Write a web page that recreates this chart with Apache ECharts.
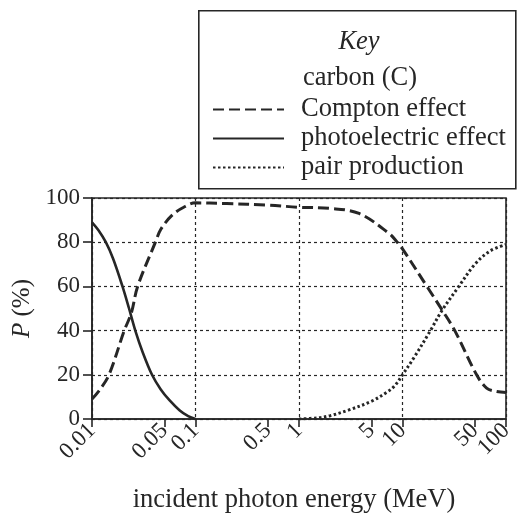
<!DOCTYPE html>
<html>
<head>
<meta charset="utf-8">
<script src="https://cdn.jsdelivr.net/npm/echarts@6/dist/echarts.min.js"></script>
<style>
  html, body { margin: 0; padding: 0; background: #ffffff; }
  #chart { width: 519px; height: 521px; }
</style>
</head>
<body>
<div id="chart"></div>
<script>
// Interaction probabilities in carbon versus incident photon energy (MeV)
const comptonEnergy = [0.01, 0.012, 0.0146, 0.0205, 0.024, 0.0276, 0.041, 0.0464, 0.06, 0.077, 0.1, 0.2, 0.5, 1, 2, 3.8, 7.4, 8.9, 10, 17.2, 24.4, 32, 52, 65, 80, 100];
const comptonP      = [9, 13.5, 20, 40, 48, 60, 80, 86, 92.4, 95.8, 97.8, 97.5, 96.8, 95.8, 95.3, 93, 84, 80, 77, 60, 49, 40, 20, 14, 12.5, 12];

const photoEnergy = [0.01, 0.0115, 0.0136, 0.016, 0.0197, 0.0228, 0.0262, 0.031, 0.038, 0.046, 0.056, 0.07, 0.085, 0.1];
const photoP      = [89, 85.5, 80, 72.5, 60, 50, 40, 30, 20, 13.5, 8.5, 4, 1.3, 0];

const pairEnergy = [1, 1.5, 2, 3, 5, 7, 8.4, 10, 13, 18.6, 24, 35, 50, 70, 100];
const pairP      = [0, 0.5, 1.5, 4, 8, 12, 15, 20, 28, 40, 49, 60, 70, 76, 79];

// labelled energies; the last one sits on its own axis so that it is not
// dropped next to its crowded neighbour
const energyTicks = [0.01, 0.05, 0.1, 0.5, 1, 5, 10, 50];
const energyEndTick = [100];

const ink = '#262626';
const serif = '"Liberation Serif", "DejaVu Serif", serif';

function pairs(xs, ys) { return xs.map((x, i) => [x, ys[i]]); }

const chart = echarts.init(document.getElementById('chart'), null, { renderer: 'canvas' });

const logRange = { type: 'log', logBase: 10, min: 0.01, max: 100, position: 'bottom', offset: 0 };

function labelledAxis(ticks, extra) {
  return Object.assign({}, logRange, {
    axisLine: { show: false },
    axisTick: { show: true, inside: false, length: 8, lineStyle: { color: ink, width: 1.6 }, customValues: ticks },
    minorTick: { show: false },
    axisLabel: {
      customValues: ticks, rotate: 45, margin: 8,
      showMinLabel: true, showMaxLabel: true, hideOverlap: false,
      fontFamily: serif, fontSize: 23, color: ink,
      formatter: v => String(+Number(v).toPrecision(3))
    },
    splitLine: { show: false }
  }, extra || {});
}

chart.setOption({
  backgroundColor: '#ffffff',
  animation: false,
  grid: {
    left: 92, right: 13, top: 198, bottom: 102,
    show: true, borderColor: ink, borderWidth: 1.6, backgroundColor: 'transparent'
  },
  xAxis: [
    // decade grid lines
    Object.assign({}, logRange, {
      axisLine: { show: true, lineStyle: { color: ink, width: 1.6 } },
      axisTick: { show: false },
      minorTick: { show: false },
      axisLabel: { show: false },
      splitLine: { show: true, lineStyle: { color: ink, width: 1.2, type: [3, 3] } }
    }),
    labelledAxis(energyTicks, {
      name: 'incident photon energy (MeV)',
      nameLocation: 'middle', nameGap: 68,
      nameTextStyle: { fontFamily: serif, fontSize: 26.5, color: ink, padding: [0, 10, 0, 0] }
    }),
    labelledAxis(energyEndTick)
  ],
  yAxis: {
    type: 'value', min: 0, max: 100, interval: 20,
    name: '{it|P} (%)',
    nameLocation: 'middle', nameGap: 55, nameRotate: 90,
    nameTextStyle: {
      fontFamily: serif, fontSize: 25, color: ink,
      rich: { it: { fontFamily: serif, fontSize: 25, fontStyle: 'italic', color: ink } }
    },
    axisLine: { show: true, lineStyle: { color: ink, width: 1.6 } },
    axisTick: { show: true, inside: false, length: 9, lineStyle: { color: ink, width: 1.6 } },
    axisLabel: { fontFamily: serif, fontSize: 23, color: ink, margin: 12 },
    splitLine: { show: true, lineStyle: { color: ink, width: 1.2, type: [3, 3] } }
  },
  legend: {
    orient: 'vertical',
    left: 212, top: 95, padding: 0,
    itemWidth: 71, itemHeight: 14, itemGap: 0,
    itemStyle: { opacity: 0 },
    textStyle: { fontFamily: serif, fontSize: 26.5, color: ink, lineHeight: 24, padding: [5, 0, 0, 12] },
    data: ['Compton effect', 'photoelectric effect', 'pair production']
  },
  graphic: [
    {
      type: 'rect', left: 198, top: 10, z: 10,
      shape: { width: 317, height: 178 },
      style: { fill: 'transparent', stroke: ink, lineWidth: 1.6 }
    },
    {
      type: 'text', x: 359, y: 42, z: 10,
      style: { text: 'Key', fontFamily: serif, fontSize: 26.5, fontStyle: 'italic', fill: ink, align: 'center', verticalAlign: 'middle' }
    },
    {
      type: 'text', x: 360, y: 78, z: 10,
      style: { text: 'carbon (C)', fontFamily: serif, fontSize: 26.5, fill: ink, align: 'center', verticalAlign: 'middle' }
    }
  ],
  series: [
    {
      name: 'Compton effect', type: 'line', symbol: 'none', smooth: 0.35,
      xAxisIndex: 0,
      data: pairs(comptonEnergy, comptonP),
      lineStyle: { color: ink, width: 3, type: [11, 5] },
      itemStyle: { color: ink }
    },
    {
      name: 'photoelectric effect', type: 'line', symbol: 'none', smooth: 0.35,
      xAxisIndex: 0,
      data: pairs(photoEnergy, photoP),
      lineStyle: { color: ink, width: 2.6, type: 'solid' },
      itemStyle: { color: ink }
    },
    {
      name: 'pair production', type: 'line', symbol: 'none', smooth: 0.35,
      xAxisIndex: 0,
      data: pairs(pairEnergy, pairP),
      lineStyle: { color: ink, width: 3, type: [2.5, 2.5] },
      itemStyle: { color: ink }
    }
  ]
});
</script>
</body>
</html>
